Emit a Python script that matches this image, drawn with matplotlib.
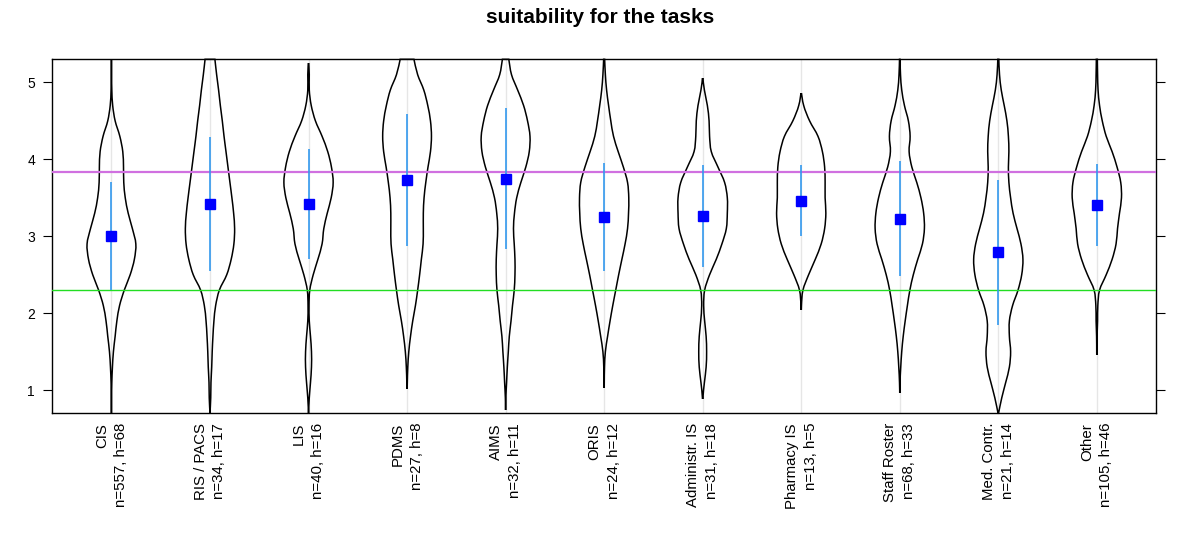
import matplotlib

matplotlib.use("Agg")
import matplotlib.pyplot as plt
import numpy as np
from matplotlib.path import Path
from matplotlib.patches import PathPatch, Rectangle

plt.rcParams["font.family"] = ["Liberation Sans", "DejaVu Sans"]

# systems, respondents (n) and hospitals (h)
CATEGORIES = ["CIS", "RIS / PACS", "LIS", "PDMS", "AIMS", "ORIS",
              "Administr. IS", "Pharmacy IS", "Staff Roster", "Med. Contr.",
              "Other"]
N_RESP = [557, 34, 40, 27, 32, 24, 31, 13, 68, 21, 105]
N_HOSP = [68, 17, 16, 8, 11, 12, 18, 5, 33, 14, 46]

# mean score and standard deviation
MEANS = [3.00, 3.42, 3.42, 3.73, 3.75, 3.25, 3.26, 3.46, 3.23, 2.79, 3.41]
SDS = [0.70, 0.87, 0.71, 0.86, 0.92, 0.70, 0.66, 0.46, 0.75, 0.94, 0.53]

# reference lines
REF_HIGH = 3.84
REF_LOW = 2.30

# violin outlines: relative density at each score level
LEVELS = [0.7, 0.9, 1.1, 1.3, 1.5, 1.7, 1.9, 2.1, 2.3, 2.5, 2.7, 2.9,
          3.1, 3.3, 3.5, 3.7, 3.9, 4.1, 4.3, 4.5, 4.7, 4.9, 5.1, 5.3]
DENS_CIS = [0.0, 0.005, 0.015, 0.04, 0.08, 0.15, 0.22, 0.33, 0.52, 0.76, 0.93, 0.99,
            0.85, 0.68, 0.56, 0.5, 0.49, 0.46, 0.34, 0.15, 0.05, 0.015, 0.005, 0.0]
DENS_RIS = [0.0, 0.03, 0.04, 0.07, 0.09, 0.12, 0.16, 0.23, 0.38, 0.68, 0.86, 0.97,
            1.0, 0.96, 0.89, 0.81, 0.73, 0.65, 0.57, 0.5, 0.42, 0.35, 0.27, 0.2]
DENS_LIS = [0.0, 0.03, 0.08, 0.12, 0.12, 0.08, 0.03, 0.02, 0.05, 0.19, 0.38, 0.55,
            0.62, 0.76, 0.92, 1.0, 0.93, 0.78, 0.55, 0.28, 0.11, 0.03, 0.03, 0.0]
DENS_PDMS = [0.0, 0.0, 0.01, 0.03, 0.07, 0.14, 0.23, 0.34, 0.43, 0.51, 0.58, 0.65,
             0.66, 0.66, 0.69, 0.76, 0.85, 0.95, 0.99, 0.95, 0.84, 0.68, 0.43, 0.28]
DENS_AIMS = [0.0, 0.01, 0.04, 0.07, 0.11, 0.15, 0.22, 0.28, 0.35, 0.38, 0.38, 0.35,
             0.32, 0.36, 0.45, 0.62, 0.82, 0.96, 0.99, 0.89, 0.73, 0.49, 0.24, 0.13]
DENS_ORIS = [0.0, 0.0, 0.005, 0.015, 0.05, 0.14, 0.24, 0.35, 0.47, 0.59, 0.72, 0.85,
             0.95, 0.99, 1.0, 0.95, 0.78, 0.57, 0.38, 0.27, 0.18, 0.1, 0.05, 0.02]
DENS_ADMIN = [0.0, 0.01, 0.07, 0.14, 0.16, 0.14, 0.08, 0.04, 0.08, 0.28, 0.55, 0.78,
              0.96, 1.0, 1.0, 0.89, 0.62, 0.35, 0.28, 0.26, 0.19, 0.07, 0.0, 0.0]
DENS_PHARM = [0.0, 0.0, 0.0, 0.0, 0.0, 0.0, 0.0, 0.01, 0.07, 0.3, 0.57, 0.81,
              0.95, 1.0, 0.97, 0.97, 0.95, 0.86, 0.68, 0.34, 0.1, 0.0, 0.0, 0.0]
DENS_STAFF = [0.0, 0.0, 0.01, 0.04, 0.08, 0.14, 0.22, 0.31, 0.41, 0.55, 0.73, 0.92,
              1.0, 0.97, 0.86, 0.69, 0.49, 0.38, 0.42, 0.35, 0.19, 0.08, 0.03, 0.01]
DENS_MED = [0.01, 0.14, 0.3, 0.45, 0.5, 0.45, 0.45, 0.58, 0.8, 0.95, 1.0, 0.92,
            0.76, 0.6, 0.5, 0.43, 0.41, 0.43, 0.41, 0.35, 0.24, 0.12, 0.05, 0.02]
DENS_OTHER = [0.0, 0.0, 0.0, 0.0, 0.005, 0.01, 0.03, 0.04, 0.11, 0.38, 0.62, 0.78,
              0.84, 0.92, 1.0, 0.97, 0.82, 0.62, 0.38, 0.22, 0.11, 0.05, 0.03, 0.02]
DENSITIES = [DENS_CIS, DENS_RIS, DENS_LIS, DENS_PDMS, DENS_AIMS, DENS_ORIS,
             DENS_ADMIN, DENS_PHARM, DENS_STAFF, DENS_MED, DENS_OTHER]
# range of observed scores per system (violin ends)
LOW = [0.6, 0.6, 0.6, 1.01, 0.74, 1.03, 0.88, 2.04, 0.96, 0.6, 1.46]
HIGH = [5.4, 5.4, 5.25, 5.4, 5.4, 5.4, 5.06, 4.86, 5.4, 5.4, 5.4]


def bezier_side(pts):
    """Catmull-Rom through pts, as cubic bezier vertices (without the start)."""
    verts = []
    n = len(pts)
    for i in range(n - 1):
        p0 = pts[max(i - 1, 0)]
        p1 = pts[i]
        p2 = pts[i + 1]
        p3 = pts[min(i + 2, n - 1)]
        c1 = p1 + (p2 - p0) / 6.0
        c2 = p2 - (p3 - p1) / 6.0
        verts += [c1, c2, p2]
    return verts


def violin_path(pos, levels, dens, half):
    y = np.asarray(levels, float)
    w = np.asarray(dens, float) * half
    right = np.column_stack([pos + w, y])
    left = np.column_stack([pos - w, y])[::-1]
    verts = [right[0]] + bezier_side(right) + [left[0]] + bezier_side(left)
    verts.append(right[0])
    codes = ([Path.MOVETO] + [Path.CURVE4] * (3 * (len(y) - 1))
             + [Path.LINETO] + [Path.CURVE4] * (3 * (len(y) - 1))
             + [Path.CLOSEPOLY])
    return Path(np.array(verts), codes)


fig = plt.figure(figsize=(12, 5.45), dpi=100)
ax = fig.add_axes([0.0436, 0.2417, 0.9197, 0.6495])

x = np.arange(1, len(CATEGORIES) + 1)
for xi in x:
    ax.axvline(xi, color="#e6e6e6", lw=1, zorder=0)

for xi, dens, lo, hi in zip(x, DENSITIES, LOW, HIGH):
    patch = PathPatch(violin_path(xi, LEVELS, dens, 0.25), facecolor="none",
                      edgecolor="black", lw=1.1, zorder=2)
    ax.add_patch(patch)
    clip = Rectangle((xi - 0.5, lo), 1.0, hi - lo, transform=ax.transData)
    patch.set_clip_path(clip)

ax.axhline(REF_HIGH, color="#d070e0", lw=1.6, zorder=3)
ax.axhline(REF_LOW, color="#22dd22", lw=1.0, zorder=3)

ax.vlines(x, np.array(MEANS) - np.array(SDS), np.array(MEANS) + np.array(SDS),
          color="#3399ee", lw=1.2, zorder=3.5)
ax.plot(x, MEANS, "s", color="#0000ff", ms=6.8, mec="#0000ff", zorder=4)

ax.set_xlim(0.4, len(CATEGORIES) + 0.6)
ax.set_ylim(0.7, 5.3)
ax.set_yticks([1, 2, 3, 4, 5])
ax.tick_params(axis="y", direction="out", length=6.5, width=0.8,
               labelsize=10, right=True, left=True, pad=6)
ax.set_xticks(x)
labels = [f"{c}\nn={n}, h={h}" for c, n, h in zip(CATEGORIES, N_RESP, N_HOSP)]
ax.set_xticklabels(labels, rotation=90, va="top", ha="center",
                   multialignment="right", fontsize=10.8, linespacing=1.45)
ax.tick_params(axis="x", length=0, pad=7)
for sp in ax.spines.values():
    sp.set_linewidth(1.0)

fig.text(0.5, 0.967, "suitability for the tasks", ha="center", va="center",
         fontsize=15, fontweight="bold")

fig.savefig("out.png", dpi=100)
